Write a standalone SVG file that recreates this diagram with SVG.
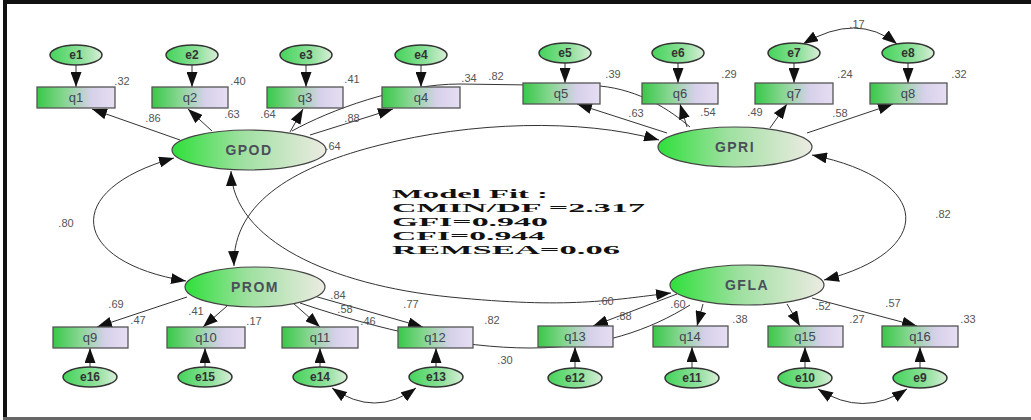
<svg xmlns="http://www.w3.org/2000/svg" width="1031" height="420" viewBox="0 0 1031 420">
<defs>
<linearGradient id="gBox" x1="0" y1="0" x2="1" y2="0">
<stop offset="0" stop-color="#38c848"/><stop offset="0.35" stop-color="#86d690"/><stop offset="0.7" stop-color="#d6d0ea"/><stop offset="1" stop-color="#e6def2"/>
</linearGradient>
<linearGradient id="gErr" x1="0" y1="0" x2="1" y2="0">
<stop offset="0" stop-color="#44d45a"/><stop offset="0.6" stop-color="#8ee09a"/><stop offset="1" stop-color="#d8eed8"/>
</linearGradient>
<linearGradient id="gLat" x1="0" y1="0" x2="1" y2="0">
<stop offset="0" stop-color="#2ee03a"/><stop offset="0.45" stop-color="#9ee0a0"/><stop offset="1" stop-color="#ecebe2"/>
</linearGradient>
<marker id="ah" viewBox="0 0 15 11" refX="15" refY="5.5" markerWidth="15" markerHeight="11" markerUnits="userSpaceOnUse" orient="auto-start-reverse">
<path d="M0,0 L15,5.5 L0,11 z" fill="#111"/>
</marker>
</defs>
<style>
.box{fill:url(#gBox);stroke:#555;stroke-width:1.3}
.err{fill:url(#gErr);stroke:#333;stroke-width:1.5}
.lat{fill:url(#gLat);stroke:#444;stroke-width:1.2}
.bt{font-family:"Liberation Sans",Arial,sans-serif;font-size:13px;fill:#445;text-anchor:middle}
.et{font-family:"Liberation Sans",Arial,sans-serif;font-size:12px;font-weight:bold;fill:#333;text-anchor:middle}
.lt{font-family:"Liberation Sans",Arial,sans-serif;font-size:14px;font-weight:bold;fill:#4a4f5a;text-anchor:middle;letter-spacing:1.5px}
.lab{font-family:"Liberation Sans",Arial,sans-serif;font-size:11px;fill:#555;text-anchor:middle}
.c{fill:none;stroke:#333;stroke-width:1}
.a{marker-end:url(#ah)}
.b{marker-start:url(#ah);marker-end:url(#ah)}
.fit{font-family:"Liberation Serif","Times New Roman",serif;font-size:13px;font-weight:bold;fill:#111}
</style>
<rect x="0" y="0" width="1031" height="420" fill="#fff"/>
<rect x="3" y="0" width="1028" height="4" fill="#111"/>
<rect x="3" y="0" width="4" height="420" fill="#111"/>
<rect x="3" y="417" width="1028" height="3" fill="#666"/>

<g id="connectors">
<!-- latent covariances -->
<path class="c b" d="M174,158 C 60,190 70,262 186,281"/>
<path class="c b" d="M812,155 C 935,180 935,252 824,280"/>
<path class="c b" d="M231,171 C 233,240 330,285 450,297 S 610,300 671,293"/>
<path class="c b" d="M234,266 C 232,200 300,165 380,145 C 470,122 580,118 659,140"/>
<path class="c" d="M292,131 C 330,110 400,84 460,84 L 600,86 C 640,90 670,110 690,127"/>
<path class="c" d="M300,303 C 380,330 460,348 530,348 C 600,348 650,330 690,305"/>
<!-- error covariances -->
<path class="c b" d="M803,44 Q857,12 897,44"/>
<path class="c b" d="M332,388 Q375,418 416,388"/>
<path class="c b" d="M818,389 Q863,418 907,389"/>
<!-- loadings GPOD -->
<path class="c a" d="M180,140 L92,109"/>
<path class="c a" d="M212,131 L188,109"/>
<path class="c a" d="M290,132 L303,109"/>
<path class="c a" d="M310,135 L393,109"/>
<!-- loadings GPRI -->
<path class="c a" d="M667,133 L577,104"/>
<path class="c a" d="M687,127 L680,104"/>
<path class="c a" d="M770,128 L787,104"/>
<path class="c a" d="M807,133 L893,104"/>
<!-- loadings PROM -->
<path class="c a" d="M187,297 L97,327"/>
<path class="c a" d="M227,306 L203,327"/>
<path class="c a" d="M293,303 L320,327"/>
<path class="c a" d="M307,294 L423,327"/>
<!-- loadings GFLA -->
<path class="c a" d="M677,294 L593,326"/>
<path class="c a" d="M703,304 L697,326"/>
<path class="c a" d="M787,304 L800,326"/>
<path class="c a" d="M812,298 L917,326"/>
<!-- error arrows top -->
<path class="c a" d="M76,65 L76,87"/>
<path class="c a" d="M192,65 L192,87"/>
<path class="c a" d="M306,65 L306,87"/>
<path class="c a" d="M421,65 L421,87"/>
<path class="c a" d="M565,63 L565,83"/>
<path class="c a" d="M678,63 L678,83"/>
<path class="c a" d="M794,63 L794,83"/>
<path class="c a" d="M908,63 L908,83"/>
<!-- error arrows bottom -->
<path class="c a" d="M90,367 L90,348"/>
<path class="c a" d="M205,367 L205,348"/>
<path class="c a" d="M320,367 L320,348"/>
<path class="c a" d="M436,367 L436,348"/>
<path class="c a" d="M575,368 L575,347"/>
<path class="c a" d="M692,368 L692,347"/>
<path class="c a" d="M805,368 L805,347"/>
<path class="c a" d="M920,368 L920,347"/>
</g>

<g id="labels">
<text class="lab" x="122" y="85">.32</text>
<text class="lab" x="238" y="85">.40</text>
<text class="lab" x="352" y="83">.41</text>
<text class="lab" x="469" y="82">.34</text>
<text class="lab" x="496" y="80">.82</text>
<text class="lab" x="613" y="78">.39</text>
<text class="lab" x="729" y="78">.29</text>
<text class="lab" x="845" y="78">.24</text>
<text class="lab" x="959" y="78">.32</text>
<text class="lab" x="857" y="28">.17</text>
<text class="lab" x="153" y="122">.86</text>
<text class="lab" x="232" y="118">.63</text>
<text class="lab" x="268" y="118">.64</text>
<text class="lab" x="352" y="122">.88</text>
<text class="lab" x="333" y="150">.64</text>
<text class="lab" x="636" y="117">.63</text>
<text class="lab" x="708" y="116">.54</text>
<text class="lab" x="755" y="116">.49</text>
<text class="lab" x="840" y="117">.58</text>
<text class="lab" x="66" y="227">.80</text>
<text class="lab" x="943" y="218">.82</text>
<text class="lab" x="116" y="308">.69</text>
<text class="lab" x="138" y="324">.47</text>
<text class="lab" x="196" y="315">.41</text>
<text class="lab" x="254" y="325">.17</text>
<text class="lab" x="338" y="299">.84</text>
<text class="lab" x="345" y="313">.58</text>
<text class="lab" x="368" y="325">.46</text>
<text class="lab" x="411" y="308">.77</text>
<text class="lab" x="492" y="324">.82</text>
<text class="lab" x="505" y="364">.30</text>
<text class="lab" x="606" y="305">.60</text>
<text class="lab" x="624" y="320">.88</text>
<text class="lab" x="678" y="308">.60</text>
<text class="lab" x="740" y="323">.38</text>
<text class="lab" x="823" y="310">.52</text>
<text class="lab" x="857" y="323">.27</text>
<text class="lab" x="893" y="307">.57</text>
<text class="lab" x="968" y="323">.33</text>
</g>

<g id="GPOD"><ellipse class="lat" cx="249" cy="150" rx="77" ry="20"/><text class="lt" x="249" y="155">GPOD</text></g>
<g id="GPRI"><ellipse class="lat" cx="735" cy="147" rx="77" ry="20"/><text class="lt" x="735" y="152">GPRI</text></g>
<g id="PROM"><ellipse class="lat" cx="255" cy="287" rx="70" ry="20"/><text class="lt" x="255" y="292">PROM</text></g>
<g id="GFLA"><ellipse class="lat" cx="747" cy="285" rx="77" ry="20"/><text class="lt" x="747" y="290">GFLA</text></g>

<g id="q1"><rect class="box" x="37" y="87" width="78" height="21"/><text class="bt" x="76" y="102">q1</text></g>
<g id="q2"><rect class="box" x="152" y="87" width="76" height="21"/><text class="bt" x="190" y="102">q2</text></g>
<g id="q3"><rect class="box" x="267" y="87" width="76" height="21"/><text class="bt" x="305" y="102">q3</text></g>
<g id="q4"><rect class="box" x="382" y="87" width="78" height="21"/><text class="bt" x="421" y="102">q4</text></g>
<g id="q5"><rect class="box" x="523" y="83" width="77" height="21"/><text class="bt" x="561" y="98">q5</text></g>
<g id="q6"><rect class="box" x="642" y="83" width="76" height="21"/><text class="bt" x="680" y="98">q6</text></g>
<g id="q7"><rect class="box" x="755" y="83" width="78" height="21"/><text class="bt" x="794" y="98">q7</text></g>
<g id="q8"><rect class="box" x="870" y="83" width="77" height="21"/><text class="bt" x="908" y="98">q8</text></g>
<g id="q9"><rect class="box" x="53" y="327" width="75" height="21"/><text class="bt" x="90" y="342">q9</text></g>
<g id="q10"><rect class="box" x="167" y="327" width="78" height="21"/><text class="bt" x="206" y="342">q10</text></g>
<g id="q11"><rect class="box" x="282" y="327" width="76" height="21"/><text class="bt" x="320" y="342">q11</text></g>
<g id="q12"><rect class="box" x="398" y="327" width="75" height="21"/><text class="bt" x="435" y="342">q12</text></g>
<g id="q13"><rect class="box" x="538" y="326" width="75" height="21"/><text class="bt" x="575" y="341">q13</text></g>
<g id="q14"><rect class="box" x="653" y="326" width="75" height="21"/><text class="bt" x="690" y="341">q14</text></g>
<g id="q15"><rect class="box" x="768" y="326" width="75" height="21"/><text class="bt" x="805" y="341">q15</text></g>
<g id="q16"><rect class="box" x="882" y="326" width="76" height="21"/><text class="bt" x="920" y="341">q16</text></g>

<g id="e1"><ellipse class="err" cx="76" cy="55" rx="26" ry="10"/><text class="et" x="76" y="59">e1</text></g>
<g id="e2"><ellipse class="err" cx="192" cy="55" rx="26" ry="10"/><text class="et" x="192" y="59">e2</text></g>
<g id="e3"><ellipse class="err" cx="306" cy="55" rx="26" ry="10"/><text class="et" x="306" y="59">e3</text></g>
<g id="e4"><ellipse class="err" cx="421" cy="55" rx="26" ry="10"/><text class="et" x="421" y="59">e4</text></g>
<g id="e5"><ellipse class="err" cx="565" cy="53" rx="26" ry="10"/><text class="et" x="565" y="57">e5</text></g>
<g id="e6"><ellipse class="err" cx="678" cy="53" rx="26" ry="10"/><text class="et" x="678" y="57">e6</text></g>
<g id="e7"><ellipse class="err" cx="794" cy="53" rx="26" ry="10"/><text class="et" x="794" y="57">e7</text></g>
<g id="e8"><ellipse class="err" cx="908" cy="53" rx="26" ry="10"/><text class="et" x="908" y="57">e8</text></g>
<g id="e16"><ellipse class="err" cx="90" cy="377" rx="27" ry="10"/><text class="et" x="90" y="381">e16</text></g>
<g id="e15"><ellipse class="err" cx="205" cy="377" rx="27" ry="10"/><text class="et" x="205" y="381">e15</text></g>
<g id="e14"><ellipse class="err" cx="320" cy="377" rx="27" ry="10"/><text class="et" x="320" y="381">e14</text></g>
<g id="e13"><ellipse class="err" cx="436" cy="377" rx="27" ry="10"/><text class="et" x="436" y="381">e13</text></g>
<g id="e12"><ellipse class="err" cx="575" cy="378" rx="27" ry="10"/><text class="et" x="575" y="382">e12</text></g>
<g id="e11"><ellipse class="err" cx="692" cy="378" rx="27" ry="10"/><text class="et" x="692" y="382">e11</text></g>
<g id="e10"><ellipse class="err" cx="805" cy="378" rx="27" ry="10"/><text class="et" x="805" y="382">e10</text></g>
<g id="e9"><ellipse class="err" cx="920" cy="378" rx="27" ry="10"/><text class="et" x="920" y="382">e9</text></g>

<g id="modelfit">
<text class="fit" x="392" y="198" textLength="156" lengthAdjust="spacingAndGlyphs">Model Fit :</text>
<text class="fit" x="392" y="212" textLength="253" lengthAdjust="spacingAndGlyphs">CMIN/DF =2.317</text>
<text class="fit" x="392" y="226" textLength="156" lengthAdjust="spacingAndGlyphs">GFI=0.940</text>
<text class="fit" x="392" y="240" textLength="153" lengthAdjust="spacingAndGlyphs">CFI=0.944</text>
<text class="fit" x="392" y="254" textLength="228" lengthAdjust="spacingAndGlyphs">REMSEA=0.06</text>
</g>
</svg>
